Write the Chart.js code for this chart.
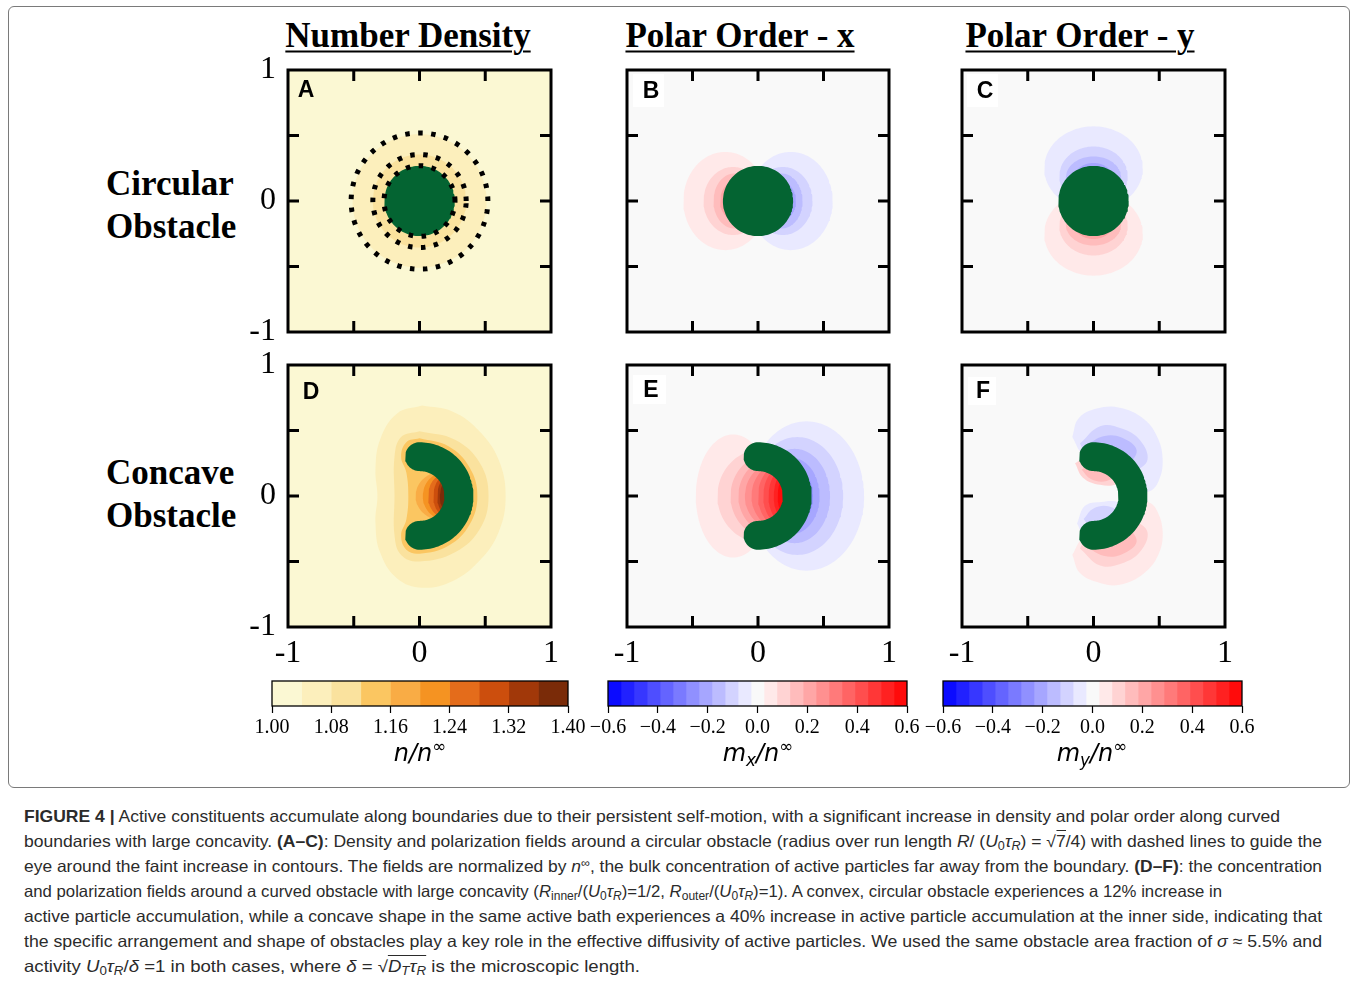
<!DOCTYPE html>
<html>
<head>
<meta charset="utf-8">
<title>Figure 4</title>
<script src="https://cdn.jsdelivr.net/npm/chart.js"></script>
<style>
  body { margin: 0; background: #fff; }
  #fig { position: relative; width: 1356px; height: 986px; overflow: hidden; }
  #fig canvas { position: absolute; }
  .frame { position: absolute; left: 8px; top: 6px; width: 1340px; height: 780px; border: 1.5px solid #7a7a7a; border-radius: 6px; }
  .title { position: absolute; font: bold 35px 'Liberation Serif', serif; line-height: 1; text-decoration: underline; text-decoration-thickness: 2px; text-underline-offset: 4px; transform: translate(-50%, -50%); white-space: nowrap; }
  .row { position: absolute; left: 106px; font: bold 35px 'Liberation Serif', serif; line-height: 1; transform: translateY(-50%); white-space: nowrap; }
  .tag { position: absolute; font: bold 23px 'Liberation Sans', Arial, sans-serif; line-height: 1; transform: translate(-50%, -50%); }
  .box { position: absolute; background: #fff; }
  .cblabel { position: absolute; font: oblique 24px 'DejaVu Sans', sans-serif; line-height: 1; transform: translate(-50%, -50%); white-space: nowrap; }
  .cblabel sub, .cblabel sup { font-size: 0.7em; line-height: 0; }
  .cblabel sub { vertical-align: -0.3em; }
  .cblabel sup { vertical-align: 0.55em; }
  .cap { position: absolute; left: 24px; width: max-content; white-space: nowrap; font: 16.5px 'Liberation Sans', Arial, sans-serif; line-height: 25px; color: #2b2b2b; transform-origin: 0 0; }
  .cap sub, .cap sup { font-size: 0.72em; line-height: 0; }
  .cap sub { vertical-align: -0.25em; }
  .cap sup { vertical-align: 0.45em; }
  .cap .ov { border-top: 1px solid #2b2b2b; padding-top: 1px; }
</style>
</head>
<body>
<div id="fig">
  <div class="frame"></div>

  <div class="title" style="left:408px; top:35px;">Number Density</div>
  <div class="title" style="left:740px; top:35px;">Polar Order - x</div>
  <div class="title" style="left:1080px; top:35px;">Polar Order - y</div>

  <div class="row" style="top:183px;">Circular</div>
  <div class="row" style="top:226px;">Obstacle</div>
  <div class="row" style="top:472px;">Concave</div>
  <div class="row" style="top:515px;">Obstacle</div>
</div>

<script>
'use strict'

// ---------------- values ----------------
const axisTicks = [-1, -0.5, 0, 0.5, 1];
const axisTickLabels = ['-1', '', '0', '', '1'];

const densityLevels = [1.00, 1.04, 1.08, 1.12, 1.16, 1.20, 1.24, 1.28, 1.32, 1.36, 1.40];
const densityTicks = [1.00, 1.08, 1.16, 1.24, 1.32, 1.40];
const polarLevels = [-0.600, -0.548, -0.496, -0.443, -0.391, -0.339, -0.287, -0.235, -0.183, -0.130, -0.078, -0.026,
    0.026, 0.078, 0.130, 0.183, 0.235, 0.287, 0.339, 0.391, 0.443, 0.496, 0.548, 0.600];
const polarTicks = [-0.6, -0.4, -0.2, 0, 0.2, 0.4, 0.6];

// obstacles, in axis units
const circleObstacle = [0, 0, 0.268];            // cx, cy, r
const concaveObstacle = [0, 0, 0.19, 0.41, 90];   // cx, cy, inner r, outer r, half angle (deg)
const guideRings = [0.27, 0.355, 0.52];

// contour regions as ellipses: [colour cell, cx, cy, rx, ry]
const densityCircle = [[1, 0, 0, 0.51, 0.51], [2, 0, 0, 0.355, 0.355]];
const polarXCircle = [
    [12, -0.25, 0, 0.32, 0.375], [13, -0.19, 0, 0.226, 0.26], [14, -0.18, 0, 0.16, 0.21], [15, -0.17, 0, 0.12, 0.15],
    [10, 0.25, 0, 0.32, 0.375], [9, 0.19, 0, 0.226, 0.26], [8, 0.18, 0, 0.16, 0.21], [7, 0.17, 0, 0.12, 0.15]
];
const polarYCircle = [
    [10, 0, 0.25, 0.375, 0.32], [9, 0, 0.19, 0.26, 0.226], [8, 0, 0.18, 0.21, 0.16], [7, 0, 0.17, 0.15, 0.12],
    [12, 0, -0.25, 0.375, 0.32], [13, 0, -0.19, 0.26, 0.226], [14, 0, -0.18, 0.21, 0.16], [15, 0, -0.17, 0.15, 0.12]
];

// concave obstacle, number density: outlines [x, y] of cells 1..3, then stripes in the pocket
const densityConcaveL1 = [[0.02, 0.69], [0.25, 0.645], [0.45, 0.5], [0.6, 0.28], [0.655, 0], [0.6, -0.28], [0.45, -0.5],
    [0.25, -0.65], [0.02, -0.70], [-0.17, -0.63], [-0.30, -0.43], [-0.335, -0.2], [-0.32, 0], [-0.335, 0.2], [-0.30, 0.43], [-0.17, 0.63]];
const densityConcaveL2 = [[0, 0.495], [0.27, 0.43], [0.46, 0.25], [0.525, 0], [0.46, -0.25], [0.27, -0.43], [0, -0.5],
    [-0.14, -0.45], [-0.19, -0.3], [-0.19, 0], [-0.19, 0.3], [-0.14, 0.45]];
const densityConcaveL3 = [[0, 0.44], [0.22, 0.38], [0.38, 0.22], [0.44, 0], [0.38, -0.22], [0.22, -0.38], [0, -0.44],
    [-0.1, -0.41], [-0.14, -0.3], [-0.1, -0.18], [-0.085, 0], [-0.1, 0.18], [-0.14, 0.3], [-0.1, 0.41]];
const densityConcaveStripes = [
    [4, 0.185, 0, 0.215, 0.19], [5, 0.19, 0, 0.165, 0.18], [6, 0.2, 0, 0.135, 0.17],
    [7, 0.21, 0, 0.105, 0.16], [8, 0.22, 0, 0.085, 0.15], [9, 0.23, 0, 0.075, 0.13]
];

// concave obstacle, m_x
const polarXConcaveBlue = [
    [10, 0.37, 0, 0.44, 0.57], [9, 0.30, 0, 0.35, 0.45], [8, 0.28, 0, 0.27, 0.36], [7, 0.26, 0, 0.21, 0.29], [6, 0.24, 0, 0.18, 0.24]
];
const polarXConcaveRed = [
    [12, -0.19, 0, 0.285, 0.47], [13, 0.04, 0, 0.35, 0.36], [14, 0.09, 0, 0.30, 0.32], [15, 0.12, 0, 0.27, 0.29],
    [16, 0.145, 0, 0.245, 0.26], [17, 0.17, 0, 0.22, 0.25], [18, 0.195, 0, 0.195, 0.25], [19, 0.215, 0, 0.175, 0.24],
    [20, 0.235, 0, 0.155, 0.23], [21, 0.255, 0, 0.135, 0.22], [22, 0.27, 0, 0.12, 0.21]
];

// concave obstacle, m_y: outlines [x, y]
const polarYBlueOuter = [[-0.161, 0.451], [-0.115, 0.59], [0.024, 0.667], [0.2, 0.674], [0.38, 0.59], [0.485, 0.451], [0.526, 0.274],
    [0.493, 0.109], [0.417, 0.033], [0.3, 0.05], [0.2, 0.2], [0.05, 0.3], [-0.08, 0.32]];
const polarYBlueMid = [[-0.103, 0.40], [0.05, 0.532], [0.214, 0.515], [0.354, 0.426], [0.41, 0.274], [0.3, 0.2], [0.05, 0.3], [-0.06, 0.33]];
const polarYBlueInner = [[-0.052, 0.388], [0.075, 0.456], [0.214, 0.446], [0.328, 0.35], [0.25, 0.25], [0.05, 0.3]];
const polarYRedOuter = [[-0.161, -0.449], [-0.103, -0.588], [0.05, -0.664], [0.2, -0.677], [0.38, -0.593], [0.493, -0.449], [0.526, -0.271],
    [0.48, -0.106], [0.41, -0.043], [0.3, -0.05], [0.2, -0.2], [0.05, -0.3], [-0.08, -0.32]];
const polarYRedMid = [[-0.103, -0.40], [0.05, -0.53], [0.214, -0.515], [0.354, -0.426], [0.41, -0.274], [0.3, -0.2], [0.05, -0.3], [-0.06, -0.33]];
const polarYRedInner = [[-0.052, -0.388], [0.075, -0.456], [0.214, -0.446], [0.328, -0.35], [0.25, -0.25], [0.05, -0.3]];
const polarYPocketRed = [[-0.14, 0.25], [-0.08, 0.14], [0.05, 0.085], [0.18, 0.095], [0.24, 0.2], [0.05, 0.26], [-0.08, 0.28]];
const polarYPocketRed2 = [[-0.09, 0.2], [-0.02, 0.13], [0.1, 0.115], [0.21, 0.2], [0, 0.26]];
const polarYPocketBlue = [[-0.125, -0.21], [-0.065, -0.075], [0.06, -0.045], [0.19, -0.05], [0.27, -0.15], [0.05, -0.26], [-0.08, -0.28]];
const polarYPocketBlue2 = [[-0.075, -0.175], [0.0, -0.095], [0.12, -0.08], [0.21, -0.15], [0, -0.26]];

// ---------------- colours ----------------
const densityColors = ['#fbf8d3', '#fcefbc', '#fae29e', '#fbc661', '#f9ac45', '#f59322', '#e46c1b', '#cc4e0d', '#a13809', '#7a2b08'];
const polarBg = '#f9f9f9';
const obstacleGreen = '#046432';

function polarColor(cell) {
    if (cell === 11) return polarBg;
    const t = (cell + 0.5) / 23;
    const v = Math.round(255 * (t < 0.5 ? 2 * t : 2 * (1 - t)));
    return t < 0.5 ? 'rgb(' + v + ',' + v + ',255)' : 'rgb(255,' + v + ',' + v + ')';
}
const polarColors = polarLevels.slice(1).map(function (_, i) { return polarColor(i); });

// ---------------- shape helpers ----------------
function ellipsePoints(cx, cy, rx, ry) {
    const pts = [];
    for (let i = 0; i <= 120; i++) {
        const a = i / 120 * 2 * Math.PI;
        pts.push({x: cx + rx * Math.cos(a), y: cy + ry * Math.sin(a)});
    }
    return pts;
}

function outlinePoints(outline) {
    const pts = outline.map(function (p) { return {x: p[0], y: p[1]}; });
    pts.push({x: outline[0][0], y: outline[0][1]});
    return pts;
}

function crescentPoints(c) {
    const cx = c[0], cy = c[1], r1 = c[2], r2 = c[3], h = c[4] * Math.PI / 180;
    const rm = (r1 + r2) / 2, w = (r2 - r1) / 2, pts = [];
    const cap = function (a0, start) {
        const ccx = cx + rm * Math.cos(a0), ccy = cy + rm * Math.sin(a0);
        for (let i = 1; i < 30; i++) {
            const t = start + Math.PI * i / 30;
            pts.push({x: ccx + w * Math.cos(t), y: ccy + w * Math.sin(t)});
        }
    };
    for (let i = 0; i <= 80; i++) {
        const a = -h + 2 * h * i / 80;
        pts.push({x: cx + r2 * Math.cos(a), y: cy + r2 * Math.sin(a)});
    }
    cap(h, h);
    for (let i = 0; i <= 80; i++) {
        const a = h - 2 * h * i / 80;
        pts.push({x: cx + r1 * Math.cos(a), y: cy + r1 * Math.sin(a)});
    }
    cap(-h, -h + Math.PI);
    pts.push(pts[0]);
    return pts;
}

function fillSet(points, color, tension) {
    return {
        data: points, backgroundColor: color, borderColor: 'transparent', borderWidth: 0,
        pointRadius: 0, pointHoverRadius: 0, fill: 'shape', tension: tension || 0, clip: false
    };
}

function ellipseSets(list, colors) {
    return list.map(function (e) { return fillSet(ellipsePoints(e[1], e[2], e[3], e[4]), colors[e[0]]); });
}

function ringSet(r) {
    return {
        data: ellipsePoints(0, 0, r, r), borderColor: '#000', borderWidth: 5, borderDash: [4.5, 8.5],
        borderCapStyle: 'butt', pointRadius: 0, fill: false, clip: false
    };
}

const circleSet = fillSet(ellipsePoints(circleObstacle[0], circleObstacle[1], circleObstacle[2], circleObstacle[2]), obstacleGreen);
const crescentSet = fillSet(crescentPoints(concaveObstacle), obstacleGreen);

// ---------------- frame + inward ticks ----------------
const innerTicks = axisTicks.filter(function (v) { return Math.abs(v) < 1; });

var panelFrame = {
    id: 'panelFrame',
    beforeDatasetsDraw: function (chart, args, opts) {
        const a = chart.chartArea, ctx = chart.ctx;
        ctx.save();
        ctx.fillStyle = opts.bg;
        ctx.fillRect(a.left, a.top, a.width, a.height);
        ctx.restore();
    },
    afterDatasetsDraw: function (chart) {
        const a = chart.chartArea, ctx = chart.ctx, x = chart.scales.x, y = chart.scales.y;
        ctx.save();
        ctx.strokeStyle = '#000';
        ctx.lineWidth = 3;
        ctx.beginPath();
        innerTicks.forEach(function (v) {
            const px = x.getPixelForValue(v), py = y.getPixelForValue(v);
            ctx.moveTo(px, a.top); ctx.lineTo(px, a.top + 11);
            ctx.moveTo(px, a.bottom); ctx.lineTo(px, a.bottom - 11);
            ctx.moveTo(a.left, py); ctx.lineTo(a.left + 11, py);
            ctx.moveTo(a.right, py); ctx.lineTo(a.right - 11, py);
        });
        ctx.stroke();
        ctx.strokeRect(a.left, a.top, a.width, a.height);
        ctx.restore();
    }
};

const PAD_L = 70, PAD_T = 40, PAD_R = 22, PAD_B = 50;
const fig = document.getElementById('fig');

function axisOptions(showLabels, isX) {
    return {
        type: 'linear', min: -1, max: 1,
        grid: {display: false, drawTicks: false},
        border: {display: false},
        afterBuildTicks: function (s) { s.ticks = axisTicks.map(function (v) { return {value: v}; }); },
        afterFit: function (s) { if (isX) s.height = PAD_B; else s.width = PAD_L; },
        ticks: {
            display: showLabels, autoSkip: false, maxRotation: 0, padding: isX ? 7 : 12, color: '#000',
            font: {family: "'Liberation Serif', serif", size: 32},
            callback: function (v) { return axisTickLabels[axisTicks.indexOf(v)]; }
        }
    };
}

function panelChart(p) {
    const cv = document.createElement('canvas');
    cv.width = PAD_L + p.w + PAD_R;
    cv.height = PAD_T + p.h + PAD_B;
    cv.style.left = (p.left - PAD_L) + 'px';
    cv.style.top = (p.top - PAD_T) + 'px';
    fig.appendChild(cv);
    new Chart(cv, {
        type: 'line',
        data: {datasets: p.sets.slice().reverse()},
        options: {
            responsive: false, animation: false, events: [],
            layout: {padding: {left: 0, top: PAD_T, right: PAD_R, bottom: 0}},
            plugins: {legend: {display: false}, tooltip: {enabled: false}, panelFrame: {bg: p.bg}},
            scales: {x: axisOptions(p.showX, true), y: axisOptions(p.showY, false)}
        },
        plugins: [panelFrame]
    });
}

const panels = [
    {left: 288, top: 70, w: 263, h: 262, bg: densityColors[0], showX: false, showY: true,
        sets: ellipseSets(densityCircle, densityColors).concat([circleSet], guideRings.map(ringSet))},
    {left: 627, top: 70, w: 262, h: 262, bg: polarBg, showX: false, showY: false,
        sets: ellipseSets(polarXCircle, polarColors).concat([circleSet])},
    {left: 962, top: 70, w: 263, h: 262, bg: polarBg, showX: false, showY: false,
        sets: ellipseSets(polarYCircle, polarColors).concat([circleSet])},
    {left: 288, top: 365, w: 263, h: 262, bg: densityColors[0], showX: true, showY: true,
        sets: [fillSet(outlinePoints(densityConcaveL1), densityColors[1], 0.4),
            fillSet(outlinePoints(densityConcaveL2), densityColors[2], 0.4),
            fillSet(outlinePoints(densityConcaveL3), densityColors[3], 0.4)]
            .concat(ellipseSets(densityConcaveStripes, densityColors), [crescentSet])},
    {left: 627, top: 365, w: 262, h: 262, bg: polarBg, showX: true, showY: false,
        sets: ellipseSets(polarXConcaveBlue, polarColors).concat(ellipseSets(polarXConcaveRed, polarColors), [crescentSet])},
    {left: 962, top: 365, w: 263, h: 262, bg: polarBg, showX: true, showY: false,
        sets: [
            fillSet(outlinePoints(polarYBlueOuter), polarColors[10], 0.4),
            fillSet(outlinePoints(polarYBlueMid), polarColors[9], 0.4),
            fillSet(outlinePoints(polarYBlueInner), polarColors[8], 0.4),
            fillSet(outlinePoints(polarYRedOuter), polarColors[12], 0.4),
            fillSet(outlinePoints(polarYRedMid), polarColors[13], 0.4),
            fillSet(outlinePoints(polarYRedInner), polarColors[14], 0.4),
            fillSet(outlinePoints(polarYPocketRed), polarColors[13], 0.4),
            fillSet(outlinePoints(polarYPocketRed2), polarColors[14], 0.4),
            fillSet(outlinePoints(polarYPocketBlue), polarColors[10], 0.4),
            fillSet(outlinePoints(polarYPocketBlue2), polarColors[9], 0.4),
            crescentSet]}
];
panels.forEach(panelChart);

// ---------------- colour bars ----------------
var barFrame = {
    id: 'barFrame',
    afterDatasetsDraw: function (chart) {
        const a = chart.chartArea, ctx = chart.ctx;
        ctx.save();
        ctx.strokeStyle = '#000';
        ctx.lineWidth = 1.3;
        ctx.strokeRect(a.left, a.top, a.width, a.height);
        ctx.restore();
    }
};

function colorbar(left, right, levels, colors, ticks, fmt) {
    const top = 681, bottom = 706, padX = 36, padT = 5, axisH = 40;
    const cv = document.createElement('canvas');
    cv.width = (right - left) + 2 * padX;
    cv.height = padT + (bottom - top) + axisH;
    cv.style.left = (left - padX) + 'px';
    cv.style.top = (top - padT) + 'px';
    fig.appendChild(cv);
    new Chart(cv, {
        type: 'bar',
        data: {
            labels: ['bar'],
            datasets: colors.map(function (c, i) {
                return {data: [[levels[i], levels[i + 1]]], backgroundColor: c, borderWidth: 0,
                    grouped: false, barPercentage: 1, categoryPercentage: 1};
            })
        },
        options: {
            indexAxis: 'y', responsive: false, animation: false, events: [],
            layout: {padding: {left: padX, right: padX, top: padT, bottom: 0}},
            plugins: {legend: {display: false}, tooltip: {enabled: false}},
            scales: {
                y: {display: false},
                x: {
                    type: 'linear', min: levels[0], max: levels[levels.length - 1],
                    afterBuildTicks: function (s) { s.ticks = ticks.map(function (v) { return {value: v}; }); },
                    afterFit: function (s) { s.height = axisH; },
                    grid: {display: true, drawOnChartArea: false, drawTicks: true, tickLength: 7, tickWidth: 1.2, tickColor: '#000'},
                    border: {display: false},
                    ticks: {autoSkip: false, maxRotation: 0, padding: 3, color: '#000',
                        font: {family: "'Liberation Serif', serif", size: 20}, callback: fmt}
                }
            }
        },
        plugins: [barFrame]
    });
}

const fmtDensity = function (v) { return v.toFixed(2); };
const fmtPolar = function (v) { return v.toFixed(1).replace('-', '\u2212'); };
colorbar(272, 568, densityLevels, densityColors, densityTicks, fmtDensity);
colorbar(608, 907, polarLevels, polarColors, polarTicks, fmtPolar);
colorbar(943, 1242, polarLevels, polarColors, polarTicks, fmtPolar);

// ---------------- text ----------------
function addHtml(html) { fig.insertAdjacentHTML('beforeend', html); }

[[633, 74, 31, 33], [967, 74, 31, 33], [633, 375, 33, 29], [968, 377, 28, 28]].forEach(function (b) {
    addHtml('<div class="box" style="left:' + b[0] + 'px;top:' + b[1] + 'px;width:' + b[2] + 'px;height:' + b[3] + 'px;"></div>');
});
[['A', 306, 89], ['B', 651, 90], ['C', 985, 90], ['D', 311, 391], ['E', 651, 389], ['F', 983, 390]].forEach(function (t) {
    addHtml('<div class="tag" style="left:' + t[1] + 'px;top:' + t[2] + 'px;">' + t[0] + '</div>');
});

addHtml('<div class="cblabel" style="left:420px;top:753px;">n/n<sup>\u221e</sup></div>');
addHtml('<div class="cblabel" style="left:758px;top:753px;">m<sub>x</sub>/n<sup>\u221e</sup></div>');
addHtml('<div class="cblabel" style="left:1092px;top:753px;">m<sub>y</sub>/n<sup>\u221e</sup></div>');

const U0tR = '<i>U</i><sub>0</sub><i>\u03c4<sub>R</sub></i>';
const captionLines = [
    ['<b>FIGURE 4 |</b> Active constituents accumulate along boundaries due to their persistent self-motion, with a significant increase in density and polar order along curved', 1256],
    ['boundaries with large concavity. <b>(A\u2013C)</b>: Density and polarization fields around a circular obstacle (radius over run length <i>R</i>/ (' + U0tR + ') = \u221a<span class="ov">7</span>/4) with dashed lines to guide the', 1298],
    ['eye around the faint increase in contours. The fields are normalized by <i>n</i><sup>\u221e</sup>, the bulk concentration of active particles far away from the boundary. <b>(D\u2013F)</b>: the concentration', 1298],
    ['and polarization fields around a curved obstacle with large concavity (<i>R</i><sub>inner</sub>/(' + U0tR + ')=1/2, <i>R</i><sub>outer</sub>/(' + U0tR + ')=1). A convex, circular obstacle experiences a 12% increase in', 1198],
    ['active particle accumulation, while a concave shape in the same active bath experiences a 40% increase in active particle accumulation at the inner side, indicating that', 1298],
    ['the specific arrangement and shape of obstacles play a key role in the effective diffusivity of active particles. We used the same obstacle area fraction of <i>\u03c3</i> \u2248 5.5% and', 1298],
    ['activity ' + U0tR + '/<i>\u03b4</i> =1 in both cases, where <i>\u03b4</i> = \u221a<span class="ov"><i>D<sub>T</sub></i><i>\u03c4<sub>R</sub></i></span> is the microscopic length.', 616]
];
captionLines.forEach(function (line, i) {
    addHtml('<div class="cap" data-w="' + line[1] + '" style="top:' + (804 + 25 * i) + 'px;">' + line[0] + '</div>');
});
document.querySelectorAll('.cap').forEach(function (el) {
    const w = el.getBoundingClientRect().width;
    el.style.transform = 'scaleX(' + (el.dataset.w / w) + ')';
});
</script>
</body>
</html>
